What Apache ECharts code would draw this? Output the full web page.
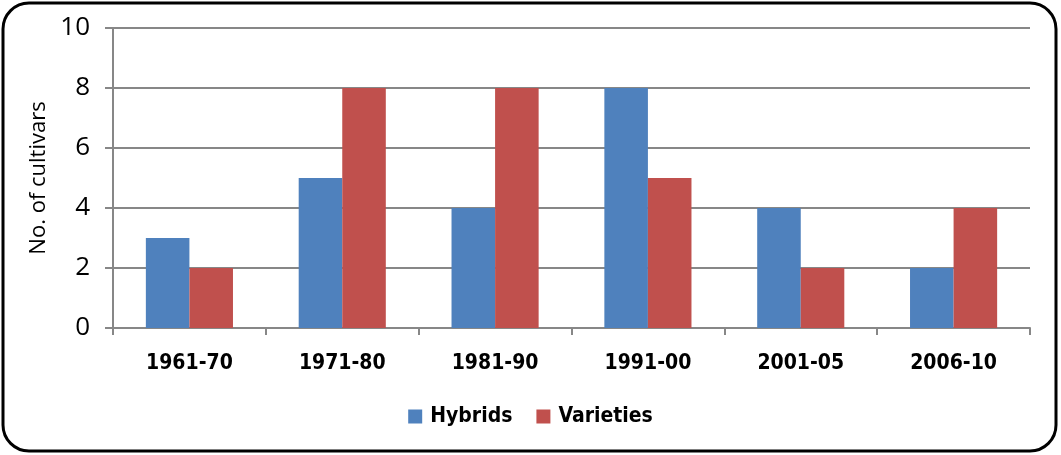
<!DOCTYPE html>
<html><head><meta charset="utf-8">
<script src="https://cdn.jsdelivr.net/npm/echarts@6/dist/echarts.min.js"></script>
<style>html,body{margin:0;padding:0;background:#fff}#c{width:1061px;height:455px}</style>
</head><body><div id="c"></div>
<script>
const categories = ['1961-70','1971-80','1981-90','1991-00','2001-05','2006-10'];
const hybrids = [3,5,4,8,4,2];
const varieties = [2,8,8,5,2,4];
const yTicks = [0,2,4,6,8,10];

const chart = echarts.init(document.getElementById('c'), null, {renderer:'canvas'});
const gray = '#878787';
const boldFont = 'DejaVu Sans Condensed';
chart.setOption({
  animation:false,
  backgroundColor:'#fff',
  textStyle:{fontFamily:'Open Sans'},
  graphic:[{type:'rect',shape:{x:3,y:3,width:1053,height:448,r:26},style:{fill:'none',stroke:'#000',lineWidth:3},z:100}],
  grid:{left:113,right:31,top:28,bottom:127},
  legend:{top:401,left:'center',itemWidth:14,itemHeight:14,itemGap:24,icon:'rect',
    textStyle:{fontFamily:boldFont,fontWeight:'bold',fontSize:21,color:'#000',padding:[0,0,0,3]},
    data:['Hybrids','Varieties']},
  xAxis:{type:'category',data:categories,
    axisLine:{lineStyle:{color:gray,width:2}},
    axisTick:{show:true,length:7,lineStyle:{color:gray,width:2}},
    axisLabel:{fontFamily:boldFont,fontWeight:'bold',fontSize:21,color:'#000',margin:25}},
  yAxis:{type:'value',min:0,max:10,interval:2,
    name:'No. of cultivars',nameLocation:'middle',nameGap:62,nameRotate:90,
    nameTextStyle:{fontFamily:'Open Sans',fontSize:22,color:'#000'},
    axisLine:{show:true,lineStyle:{color:gray,width:2}},
    axisTick:{show:true,length:8,lineStyle:{color:gray,width:2}},
    splitLine:{lineStyle:{color:gray,width:2}},
    axisLabel:{fontFamily:'Open Sans',fontSize:26,color:'#000',margin:23,
      formatter:v=>yTicks.includes(v)?String(v):''}},
  series:[
    {name:'Hybrids',type:'bar',data:hybrids,itemStyle:{color:'#4F81BD'},barGap:'0%',barCategoryGap:'43%'},
    {name:'Varieties',type:'bar',data:varieties,itemStyle:{color:'#C0504D'},barGap:'0%',barCategoryGap:'43%'}
  ]
});
</script></body></html>
